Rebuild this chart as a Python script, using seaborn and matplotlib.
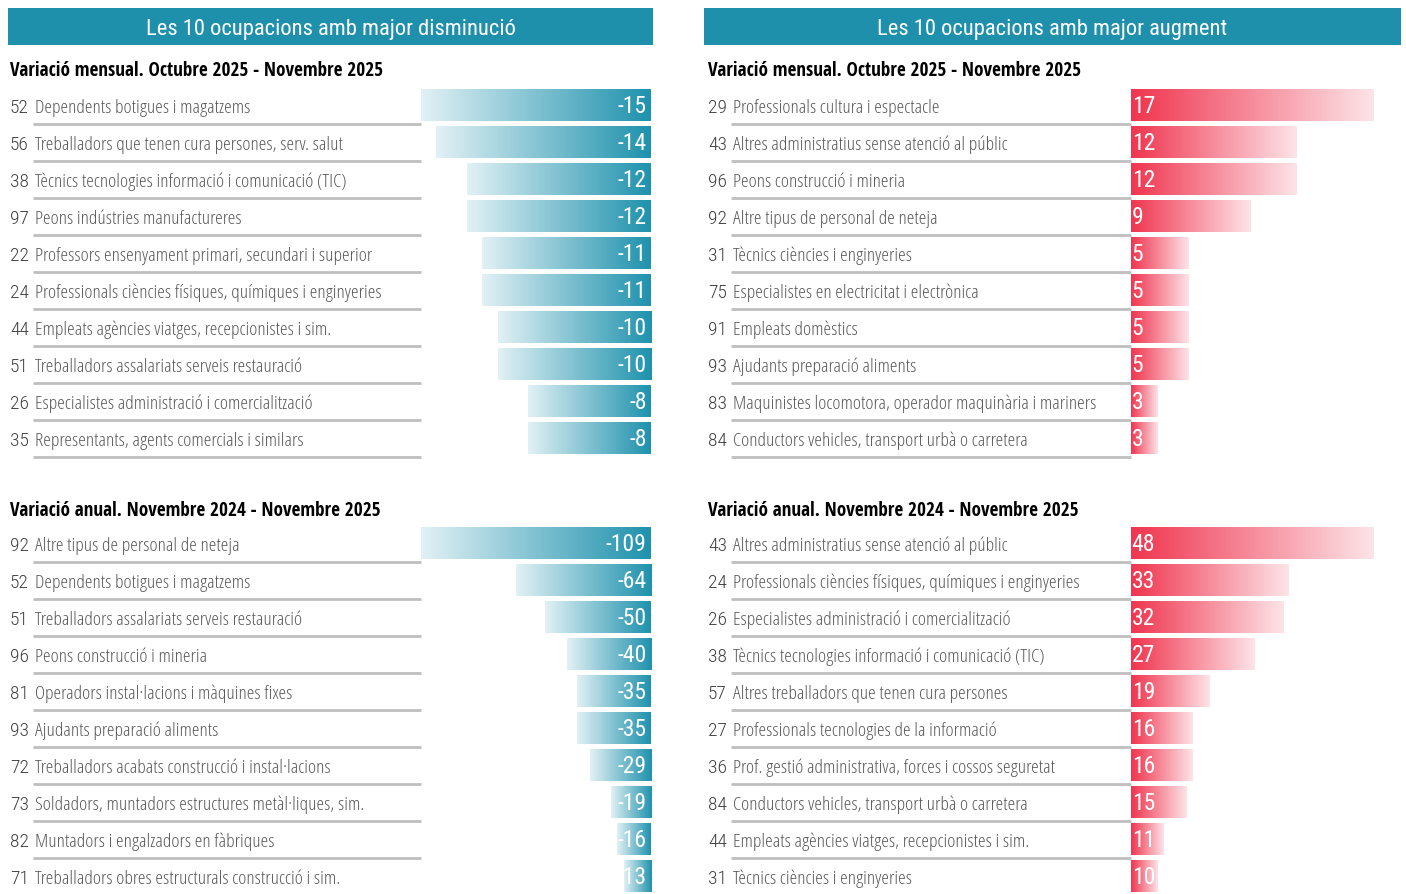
import numpy as np
import pandas as pd
import matplotlib
matplotlib.use("Agg")
import matplotlib.pyplot as plt
import seaborn as sns
from matplotlib.patches import Rectangle
from matplotlib.colors import LinearSegmentedColormap

# ---- data ----
dec_month_codes = ["52", "56", "38", "97", "22", "24", "44", "51", "26", "35"]
dec_month_labels = [
    "Dependents botigues i magatzems",
    "Treballadors que tenen cura persones, serv. salut",
    "Tècnics tecnologies informació i comunicació (TIC)",
    "Peons indústries manufactureres",
    "Professors ensenyament primari, secundari i superior",
    "Professionals ciències físiques, químiques i enginyeries",
    "Empleats agències viatges, recepcionistes i sim.",
    "Treballadors assalariats serveis restauració",
    "Especialistes administració i comercialització",
    "Representants, agents comercials i similars",
]
dec_month_values = [-15, -14, -12, -12, -11, -11, -10, -10, -8, -8]

inc_month_codes = ["29", "43", "96", "92", "31", "75", "91", "93", "83", "84"]
inc_month_labels = [
    "Professionals cultura i espectacle",
    "Altres administratius sense atenció al públic",
    "Peons construcció i mineria",
    "Altre tipus de personal de neteja",
    "Tècnics ciències i enginyeries",
    "Especialistes en electricitat i electrònica",
    "Empleats domèstics",
    "Ajudants preparació aliments",
    "Maquinistes locomotora, operador maquinària i mariners",
    "Conductors vehicles, transport urbà o carretera",
]
inc_month_values = [17, 12, 12, 9, 5, 5, 5, 5, 3, 3]

dec_year_codes = ["92", "52", "51", "96", "81", "93", "72", "73", "82", "71"]
dec_year_labels = [
    "Altre tipus de personal de neteja",
    "Dependents botigues i magatzems",
    "Treballadors assalariats serveis restauració",
    "Peons construcció i mineria",
    "Operadors instal·lacions i màquines fixes",
    "Ajudants preparació aliments",
    "Treballadors acabats construcció i instal·lacions",
    "Soldadors, muntadors estructures metàl·liques, sim.",
    "Muntadors i engalzadors en fàbriques",
    "Treballadors obres estructurals construcció i sim.",
]
dec_year_values = [-109, -64, -50, -40, -35, -35, -29, -19, -16, -13]

inc_year_codes = ["43", "24", "26", "38", "57", "27", "36", "84", "44", "31"]
inc_year_labels = [
    "Altres administratius sense atenció al públic",
    "Professionals ciències físiques, químiques i enginyeries",
    "Especialistes administració i comercialització",
    "Tècnics tecnologies informació i comunicació (TIC)",
    "Altres treballadors que tenen cura persones",
    "Professionals tecnologies de la informació",
    "Prof. gestió administrativa, forces i cossos seguretat",
    "Conductors vehicles, transport urbà o carretera",
    "Empleats agències viatges, recepcionistes i sim.",
    "Tècnics ciències i enginyeries",
]
inc_year_values = [48, 33, 32, 27, 19, 16, 16, 15, 11, 10]

titles = ["Les 10 ocupacions amb major disminució", "Les 10 ocupacions amb major augment"]
sub_month = "Variació mensual. Octubre 2025 - Novembre 2025"
sub_year = "Variació anual. Novembre 2024 - Novembre 2025"

# ---- style ----
sns.set_style("white")
plt.rcParams["font.family"] = ["Open Sans", "DejaVu Sans"]
plt.rcParams["font.stretch"] = "condensed"
REG = ["Roboto Condensed", "Open Sans", "DejaVu Sans"]
BOLD = ["Open Sans Condensed", "Open Sans", "DejaVu Sans"]

TEAL = "#1e90ab"
teal_cmap = LinearSegmentedColormap.from_list("teal", ["#e2f1f5", "#1f92ad"])
red_cmap = LinearSegmentedColormap.from_list("red", ["#f0354f", "#fde4e8"])
GRID = "#bfbfbf"

W, H = 1406, 895
fig = plt.figure(figsize=(W / 100, H / 100), dpi=100)


def box(x0, y0, x1, y1):
    return [x0 / W, 1 - y1 / H, (x1 - x0) / W, (y1 - y0) / H]


def draw_panel(codes, labels, values, side, top, bottom, subtitle, sub_y):
    if side == "left":
        lx0, bx0, bx1, sx = 8, 421, 651, 10
    else:
        lx0, bx0, bx1, sx = 706, 1131, 1401, 708
    fig.text(sx / W, 1 - sub_y / H, subtitle, fontsize=13.8, fontweight="bold",
             family=BOLD, color="black", ha="left", va="center")

    axl = fig.add_axes(box(lx0, top, bx0, bottom))
    axb = fig.add_axes(box(bx0, top, bx1, bottom))
    vals = np.array(values, dtype=float)
    if side == "left":
        lengths = vals
        xlim = (vals.min(), 0)
        cmap = teal_cmap
    else:
        # Excel-style data bars: shortest bar 10 %, longest 90 % of the cell
        span = vals.max() - vals.min()
        base = vals.min() - span / 8
        lengths = vals - base
        xlim = (0, span / 0.8)
        cmap = red_cmap

    df = pd.DataFrame({"label": labels, "length": lengths})
    sns.barplot(data=df, x="length", y="label", orient="h", ax=axb,
                width=0.86, color="k")
    ylim = axb.get_ylim()
    grad = np.linspace(0, 1, 256).reshape(1, -1)
    for p in axb.patches:
        bb = p.get_bbox()
        p.set_visible(False)
        axb.imshow(grad, cmap=cmap, aspect="auto", interpolation="bilinear",
                   extent=(min(bb.x0, bb.x1), max(bb.x0, bb.x1), bb.y1, bb.y0))
    axb.set_xlim(*xlim)
    axb.set_ylim(*ylim)

    for i, v in enumerate(values):
        if side == "left":
            axb.annotate(str(v), (0, i), xytext=(-3, 0), textcoords="offset points",
                         ha="right", va="center", color="white", fontsize=17, family=REG)
        else:
            axb.annotate(str(v), (0, i), xytext=(0.5, 0), textcoords="offset points",
                         ha="left", va="center", color="white", fontsize=17, family=REG)

    lw = bx0 - lx0
    axl.set_xlim(0, lw)
    axl.set_ylim(*ylim)
    for i, (c, lab) in enumerate(zip(codes, labels)):
        axl.text(2, i + 0.03, c, ha="left", va="center", fontsize=14, color="#404040",
                 family=REG, fontweight="light")
        axl.text(27, i + 0.03, lab, ha="left", va="center", fontsize=14,
                 fontweight="light", color="#595959")
        axl.plot([25, lw], [i + 0.5, i + 0.5], color=GRID, lw=2, solid_capstyle="butt",
                 clip_on=False)

    for ax in (axl, axb):
        ax.set_axis_off()


# headers
for (x0, x1), t in zip([(8, 653), (704, 1401)], titles):
    fig.add_artist(Rectangle((x0 / W, 1 - 46 / H), (x1 - x0) / W, 37 / H,
                             transform=fig.transFigure, color=TEAL, lw=0))
    fig.text((x0 + x1) / 2 / W, 1 - 29 / H, t, ha="center", va="center",
             color="white", fontsize=16.2, family=REG)

draw_panel(dec_month_codes, dec_month_labels, dec_month_values, "left", 88, 458, sub_month, 71)
draw_panel(inc_month_codes, inc_month_labels, inc_month_values, "right", 88, 458, sub_month, 71)
draw_panel(dec_year_codes, dec_year_labels, dec_year_values, "left", 526, 896, sub_year, 511)
draw_panel(inc_year_codes, inc_year_labels, inc_year_values, "right", 526, 896, sub_year, 511)

fig.savefig("out.png", dpi=100)
